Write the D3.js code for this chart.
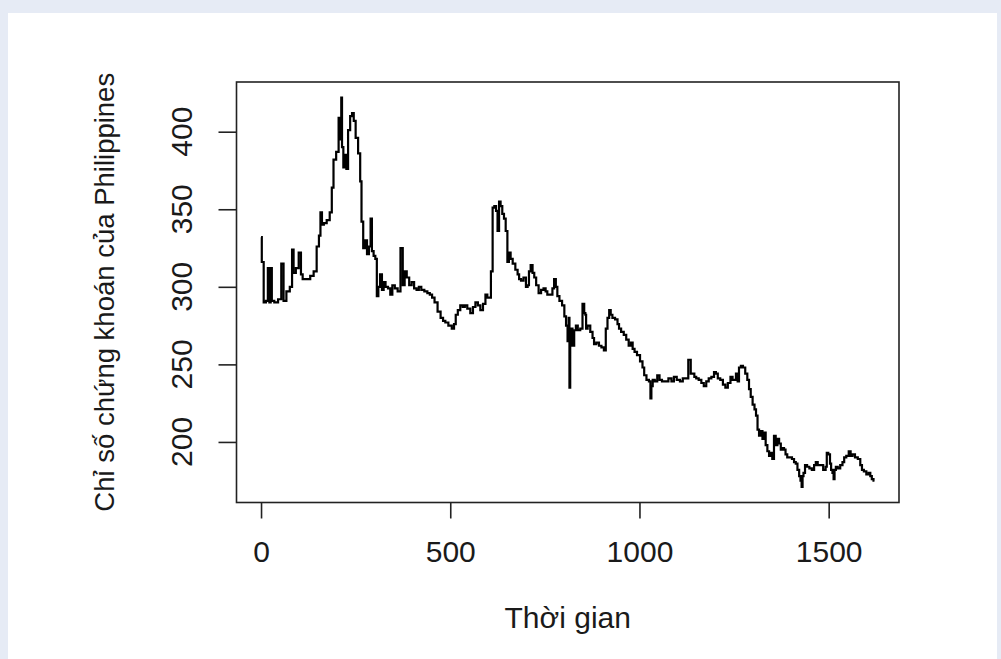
<!DOCTYPE html>
<html>
<head>
<meta charset="utf-8">
<script src="https://cdn.jsdelivr.net/npm/d3@7"></script>
<style>
body { margin: 0; background: #e6ebf5; }
text { font-family: "Liberation Sans", Arial, sans-serif; fill: #1a1a1a; }
</style>
</head>
<body>
<div id="chart"></div>
<script>
var obs = [0,4,10,16,20,24,27,30,40,50,57,62,72,80,84,88,96,103,108,112,125,135,143,151,155,159,163,169,178,185,189,194,203,207,211,213,215,220,224,227,233,238,243,247,253,260,264,267,273,278,282,288,291,295,300,304,308,312,317,322,326,332,339,344,350,357,365,372,377,382,388,395,401,408,414,420,427,436,443,449,455,462,471,478,484,490,500,508,512,517,523,530,536,541,549,557,563,570,576,583,590,596,600,605,610,614,619,623,627,631,635,640,644,649,653,657,662,668,676,680,684,690,697,703,706,710,715,720,724,730,737,743,750,754,759,768,772,777,781,785,792,799,804,808,812,814,816,818,821,825,830,834,840,847,852,856,858,860,866,874,878,882,890,896,903,909,913,918,922,926,931,940,944,948,955,962,968,975,980,984,990,997,1006,1010,1015,1022,1028,1030,1033,1037,1044,1050,1056,1063,1072,1081,1088,1094,1103,1111,1118,1125,1133,1138,1143,1147,1153,1160,1167,1173,1180,1186,1194,1200,1204,1210,1217,1224,1230,1237,1244,1248,1252,1258,1261,1265,1271,1276,1283,1287,1292,1296,1302,1306,1310,1314,1318,1323,1327,1331,1336,1340,1345,1349,1353,1358,1362,1367,1371,1376,1380,1384,1388,1393,1400,1406,1411,1415,1420,1424,1427,1430,1432,1435,1440,1446,1452,1459,1464,1468,1474,1481,1490,1494,1496,1502,1505,1508,1512,1514,1517,1521,1527,1534,1539,1543,1550,1556,1560,1566,1573,1581,1586,1590,1596,1603,1608,1612,1616,1621];
var price = [332,316,290,291,312,290,312,291,290,292,315,291,297,300,324,309,312,322,308,305,305,307,310,326,333,348,340,341,343,348,364,382,387,409,395,422,390,377,385,376,401,410,412,407,396,386,368,342,325,330,321,326,344,323,320,318,294,300,308,298,303,300,299,295,301,299,297,325,301,310,306,301,303,299,298,300,298,297,296,295,293,290,284,280,278,277,275,273,276,282,285,288,287,288,286,283,287,290,288,285,289,295,293,293,310,351,352,349,336,355,352,347,344,336,316,322,318,315,311,308,305,304,306,300,301,310,314,309,306,301,296,298,299,297,295,295,299,305,300,294,291,288,281,275,265,280,235,262,273,262,272,275,272,273,289,283,282,273,275,271,267,263,264,262,261,259,273,280,285,282,280,279,276,273,271,269,266,262,264,260,258,256,252,248,243,240,239,228,236,240,239,243,240,239,239,241,239,242,240,239,241,241,253,244,244,242,241,240,238,236,239,241,242,245,244,241,240,237,235,238,242,240,240,244,239,248,249,248,244,240,234,229,224,221,217,208,204,207,202,206,198,194,191,193,189,204,198,202,199,195,196,195,192,190,190,189,187,186,182,178,175,171,178,180,185,184,183,182,185,187,185,185,182,184,193,192,186,182,180,176,182,184,183,185,187,190,191,194,191,192,190,189,185,182,181,179,180,178,176,175];

var xTicks = [0, 500, 1000, 1500];
var yTicks = [200, 250, 300, 350, 400];

var xTitle = 'Thời gian';
var yTitle = 'Chỉ số chứng khoán của Philippines';

var W = 1001, H = 659;
var box = { left: 236.5, right: 899, top: 82, bottom: 502.5 };

var data = obs.map(function(d, i) { return { t: d, v: price[i] }; });

// R style 4% padding on both axes
var xr = d3.extent(obs), yr = d3.extent(price);
var xPad = (xr[1] - xr[0]) * 0.04, yPad = (yr[1] - yr[0]) * 0.04;

var xScale = d3.scaleLinear()
	.domain([xr[0] - xPad, xr[1] + xPad])
	.range([box.left, box.right]);

var yScale = d3.scaleLinear()
	.domain([yr[0] - yPad, yr[1] + yPad])
	.range([box.bottom, box.top]);

var svg = d3.select('#chart').append('svg')
	.attr('width', W)
	.attr('height', H);

// white panel
svg.append('rect')
	.attr('x', 8).attr('y', 13)
	.attr('width', 989).attr('height', H - 13)
	.attr('fill', '#ffffff');

// series - stepped so it keeps the jagged look of the dense original
var line = d3.line()
	.curve(d3.curveStep)
	.x(function(d) { return xScale(d.t); })
	.y(function(d) { return yScale(d.v); });

svg.append('path')
	.datum(data)
	.attr('d', line)
	.attr('fill', 'none')
	.attr('stroke', '#000')
	.attr('stroke-width', 2.2)
	.attr('stroke-linejoin', 'miter');

// frame
svg.append('rect')
	.attr('x', box.left).attr('y', box.top)
	.attr('width', box.right - box.left)
	.attr('height', box.bottom - box.top)
	.attr('fill', 'none')
	.attr('stroke', '#222')
	.attr('stroke-width', 1.6);

// x axis
var xAxis = d3.axisBottom(xScale)
	.tickValues(xTicks)
	.tickSize(16)
	.tickPadding(22)
	.tickFormat(d3.format('d'));

var xg = svg.append('g')
	.attr('transform', 'translate(0,' + box.bottom + ')')
	.call(xAxis);
xg.select('.domain').attr('stroke', 'none');
xg.selectAll('.tick line').attr('stroke', '#222').attr('stroke-width', 1.6);
xg.selectAll('.tick text')
	.attr('fill', '#1a1a1a')
	.style('font-size', '30px')
	.style('font-family', '"Liberation Sans", Arial, sans-serif');

// y axis, labels turned like R's default
var yAxis = d3.axisLeft(yScale)
	.tickValues(yTicks)
	.tickSize(18)
	.tickFormat('');

var yg = svg.append('g')
	.attr('transform', 'translate(' + box.left + ',0)')
	.call(yAxis);
yg.select('.domain').attr('stroke', 'none');
yg.selectAll('.tick line').attr('stroke', '#222').attr('stroke-width', 1.6);

svg.selectAll('.ylab')
	.data(yTicks)
	.enter().append('text')
		.attr('class', 'ylab')
		.attr('transform', function(d) { return 'translate(191.5,' + yScale(d) + ') rotate(-90)'; })
		.attr('text-anchor', 'middle')
		.style('font-size', '30px')
		.text(function(d) { return d; });

// titles
svg.append('text')
	.attr('x', (box.left + box.right) / 2)
	.attr('y', 628)
	.attr('text-anchor', 'middle')
	.style('font-size', '30px')
	.text(xTitle);

svg.append('text')
	.attr('transform', 'translate(113.5,' + (box.top + box.bottom) / 2 + ') rotate(-90)')
	.attr('text-anchor', 'middle')
	.style('font-size', '27.5px')
	.text(yTitle);
</script>
</body>
</html>
